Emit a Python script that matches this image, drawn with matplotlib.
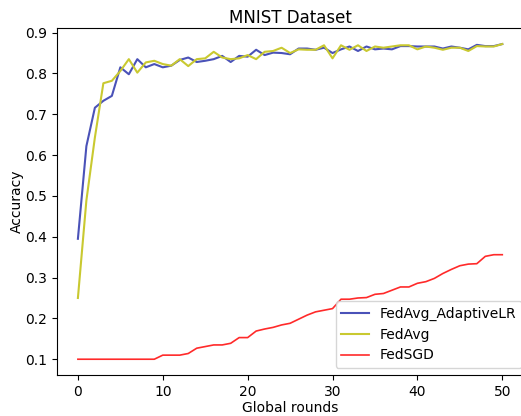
import numpy as np
import matplotlib
matplotlib.use('Agg')  # no GUI
import matplotlib.pyplot as plt

# Accuracy per global round
rounds = np.arange(51)

acc_adaptive = [0.395, 0.622, 0.716, 0.733, 0.745, 0.815, 0.798, 0.835, 0.815, 0.823,
                0.815, 0.819, 0.833, 0.839, 0.828, 0.831, 0.835, 0.843, 0.828, 0.843,
                0.841, 0.858, 0.845, 0.851, 0.850, 0.847, 0.861, 0.861, 0.858, 0.863,
                0.850, 0.859, 0.866, 0.855, 0.866, 0.859, 0.861, 0.859, 0.867, 0.867,
                0.866, 0.866, 0.866, 0.861, 0.866, 0.863, 0.859, 0.870, 0.867, 0.867,
                0.872]

acc_fedavg = [0.250, 0.489, 0.643, 0.776, 0.782, 0.806, 0.835, 0.802, 0.827, 0.831,
              0.823, 0.819, 0.835, 0.818, 0.835, 0.837, 0.853, 0.839, 0.835, 0.837,
              0.845, 0.835, 0.853, 0.855, 0.863, 0.850, 0.859, 0.858, 0.858, 0.869,
              0.837, 0.869, 0.858, 0.869, 0.855, 0.866, 0.863, 0.866, 0.869, 0.869,
              0.859, 0.866, 0.863, 0.858, 0.863, 0.863, 0.855, 0.867, 0.866, 0.866,
              0.872]

acc_fedsgd = [0.100, 0.100, 0.100, 0.100, 0.100, 0.100, 0.100, 0.100, 0.100, 0.100,
              0.110, 0.110, 0.110, 0.114, 0.127, 0.131, 0.135, 0.135, 0.139, 0.153,
              0.153, 0.169, 0.174, 0.178, 0.184, 0.188, 0.198, 0.208, 0.216, 0.220,
              0.224, 0.247, 0.247, 0.250, 0.251, 0.259, 0.261, 0.269, 0.277, 0.277,
              0.286, 0.290, 0.298, 0.310, 0.320, 0.329, 0.333, 0.334, 0.352, 0.356,
              0.356]

fig = plt.figure(figsize=(5.21, 4.16), dpi=100)
ax = fig.add_axes([0.1088, 0.0986, 0.896, 0.8334])

ax.plot(rounds, acc_adaptive, color="#4a52b8", linewidth=1.5, label="FedAvg_AdaptiveLR")
ax.plot(rounds, acc_fedavg, color="#c9c930", linewidth=1.5, label="FedAvg")
ax.plot(rounds, acc_fedsgd, color="#ff2a2a", linewidth=1.2, label="FedSGD")

ax.set_title("MNIST Dataset", pad=4)
ax.set_xlabel("Global rounds", labelpad=2)
ax.set_ylabel("Accuracy", labelpad=1)
# reference legend sits a few pixels further right, past the figure edge
ax.legend(loc="lower right", bbox_to_anchor=(1.012, 0.0))

fig.savefig("out.png", dpi=100)
